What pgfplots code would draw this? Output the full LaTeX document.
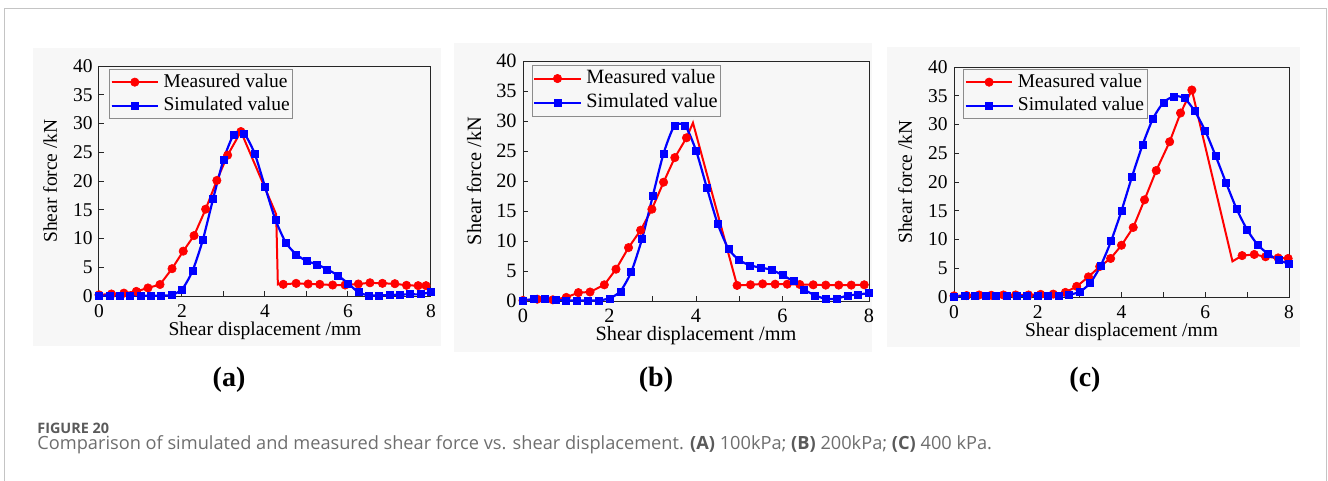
\documentclass[border=0pt]{standalone}
\usepackage{fontspec}
\setmainfont{Liberation Serif}
\newfontfamily\capfont{Open Sans}
\usepackage{pgfplots}
\pgfplotsset{compat=1.18}

\definecolor{panelbg}{HTML}{F7F7F7}
\definecolor{framegray}{HTML}{C4C4C4}
\definecolor{capgray}{HTML}{6E6E6E}
\definecolor{figgray}{HTML}{5A5A5A}
\definecolor{measred}{HTML}{FF0000}
\definecolor{simblue}{HTML}{0000FF}

% shared look of the three shear panels; #1 = font size in pt
\pgfplotsset{
  shearaxis/.style={
    scale only axis,
    xmin=0, xmax=8, ymin=0, ymax=40,
    xtick={0,2,4,6,8}, ytick={0,5,...,40},
    minor xtick={1,3,5,7},
    tick pos=left, tick align=inside,
    major tick length=2.7pt, minor tick length=2.7pt,
    axis line style={draw=black!85, line width=0.5pt},
    every tick/.style={draw=black!85, line width=0.5pt},
    /pgf/number format/assume math mode=true,
    tick label style={font=\fontsize{#1}{#1}\selectfont},
    xticklabel style={anchor=base, yshift=-10.5pt},
    yticklabel style={anchor=east, inner sep=0pt, xshift=-3pt},
    xlabel={Shear displacement /mm},
    ylabel={Shear force /kN},
    label style={font=\fontsize{#1}{#1}\selectfont},
    xlabel style={at={(axis description cs:0.5,0)}, anchor=base, yshift=-19.5pt},
    ylabel style={at={(axis description cs:0,0.5)}, anchor=center, yshift=24.5pt},
    legend cell align=left,
    legend style={
      font=\fontsize{#1}{#1}\selectfont,
      draw=black!45, line width=0.4pt, fill=none,
      inner sep=0.5pt, row sep=0pt,
      nodes={inner sep=1pt, text height=0.75*#1pt, text depth=0.25*#1pt},
      /tikz/every odd column/.append style={column sep=1.2pt},
      at={(axis description cs:0,1)}, anchor=north west,
    },
    legend image code/.code={%
      \draw[mark=none] (0pt,0pt) -- (23.3pt,0pt);
      \draw[mark indices={2}]
        plot coordinates {(0pt,0pt) (11.65pt,0pt) (23.3pt,0pt)};},
  },
  measured/.style={color=measred, line width=1pt, mark=*,
    mark size=2.1pt, mark options={solid, fill=measred, draw=measred, line width=0.3pt}},
  simulated/.style={color=simblue, line width=1.1pt, mark=square*,
    mark size=1.75pt, mark options={solid, fill=simblue, draw=simblue, line width=0.3pt}},
}

\begin{document}
\begin{tikzpicture}
\useasboundingbox (0pt,0pt) rectangle (664pt,-240.5pt);

% outer figure frame
\draw[framegray, line width=0.5pt] (2pt,-240.5pt) -- (2pt,-4.5pt) -- (663.3pt,-4.5pt) -- (663.3pt,-240.5pt);

% panel backgrounds
\fill[panelbg] (16.5pt,-24pt) rectangle (220.5pt,-173pt);
\fill[panelbg] (227pt,-21.5pt) rectangle (436pt,-176pt);
\fill[panelbg] (443.5pt,-23.5pt) rectangle (650pt,-173.5pt);

% (a) 100 kPa
\begin{axis}[shearaxis=9.75, width=166pt, height=115pt,
  at={(49.5pt,-148pt)}, anchor=south west,
  legend style={xshift=5pt, yshift=-1.5pt}]
\addplot+[measured, mark indices={1,2,3,4,5,6,7,8,9,10,11,12,13,16,17,18,19,20,21,22,23,24,25,26,27,28}] table {
x y
0 0.2
0.3 0.35
0.6 0.5
0.9 0.8
1.18 1.4
1.47 2.0
1.76 4.75
2.03 7.8
2.29 10.5
2.57 15.1
2.84 20.1
3.10 24.5
3.42 28.6
4.27 14.2
4.31 2.0
4.44 2.03
4.75 2.2
5.04 2.09
5.32 2.03
5.63 1.91
5.93 1.91
6.25 2.09
6.53 2.3
6.83 2.2
7.13 2.14
7.41 1.86
7.69 1.8
7.88 1.8
};
\addlegendentry{Measured value}
\addplot+[simulated, smooth, tension=0.4] table {
x y
0 0.1
0.25 0.1
0.5 0.1
0.75 0.1
1.0 0.05
1.25 0.05
1.5 0.05
1.75 0.2
2.0 1.15
2.25 4.3
2.5 9.7
2.75 16.9
3.0 23.7
3.25 28.1
3.5 28.2
3.75 24.8
4.0 19.0
4.25 13.3
4.5 9.3
4.75 7.25
5.0 6.1
5.25 5.5
5.5 4.64
5.75 3.6
6.0 2.2
6.25 0.65
6.5 0.1
6.75 0.1
7.0 0.15
7.25 0.25
7.5 0.3
7.75 0.3
8.0 0.7
};
\addlegendentry{Simulated value}
\end{axis}

% (b) 200 kPa
\begin{axis}[shearaxis=10.15, width=173pt, height=120pt,
  at={(261.5pt,-150.5pt)}, anchor=south west,
  legend style={xshift=4.35pt, yshift=-2pt}]
\addplot+[measured, mark indices={1,2,3,4,5,6,7,8,9,10,11,12,13,14,16,17,18,19,20,21,22,23,24,25,26}] table {
x y
0 0.1
0.33 0.3
0.69 0.2
1.0 0.6
1.28 1.4
1.55 1.5
1.88 2.7
2.15 5.3
2.44 8.9
2.72 11.8
2.98 15.3
3.25 19.8
3.51 23.9
3.78 27.2
3.93 29.7
4.95 2.6
5.26 2.7
5.54 2.85
5.83 2.8
6.11 2.8
6.40 2.75
6.71 2.7
7.0 2.65
7.30 2.65
7.59 2.65
7.89 2.7
};
\addlegendentry{Measured value}
\addplot+[simulated, smooth, tension=0.4] table {
x y
0 0.1
0.25 0.3
0.5 0.3
0.75 0.2
1.0 0.1
1.25 0.1
1.5 0.1
1.75 0.1
2.0 0.45
2.25 1.6
2.5 4.8
2.75 10.3
3.0 17.5
3.25 24.6
3.5 29.2
3.75 29.2
4.0 25.1
4.25 18.9
4.5 12.9
4.75 8.7
5.0 6.8
5.25 5.95
5.5 5.55
5.75 5.2
6.0 4.3
6.25 3.3
6.5 1.9
6.75 0.95
7.0 0.35
7.25 0.4
7.5 0.9
7.75 1.1
8.0 1.3
};
\addlegendentry{Simulated value}
\end{axis}

% (c) 400 kPa
\begin{axis}[shearaxis=9.75, width=167.5pt, height=115pt,
  at={(477pt,-148.5pt)}, anchor=south west,
  legend style={xshift=4.65pt, yshift=-1pt}]
\addplot+[measured, mark indices={1,2,3,4,5,6,7,8,9,10,11,12,13,14,15,16,17,18,19,20,21,23,24,25,26,27}] table {
x y
0 0.2
0.3 0.25
0.6 0.35
0.89 0.3
1.18 0.35
1.47 0.35
1.78 0.35
2.07 0.46
2.37 0.5
2.66 0.8
2.93 1.85
3.21 3.5
3.48 5.3
3.74 6.7
4.0 9.0
4.28 12.1
4.55 16.9
4.83 22.0
5.15 27.0
5.41 32.0
5.68 36.0
6.65 6.2
6.88 7.2
7.17 7.4
7.44 7.0
7.74 6.8
7.98 6.7
};
\addlegendentry{Measured value}
\addplot+[simulated, smooth, tension=0.4] table {
x y
0 0.1
0.25 0.2
0.5 0.2
0.75 0.2
1.0 0.2
1.25 0.2
1.5 0.2
1.75 0.2
2.0 0.2
2.25 0.2
2.5 0.25
2.75 0.4
3.0 0.9
3.25 2.4
3.5 5.4
3.75 9.7
4.0 15.0
4.25 20.9
4.5 26.4
4.75 31.0
5.0 33.8
5.25 34.9
5.5 34.6
5.75 32.3
6.0 28.9
6.25 24.5
6.5 19.8
6.75 15.3
7.0 11.7
7.25 9.1
7.5 7.5
7.75 6.4
8.0 5.8
};
\addlegendentry{Simulated value}
\end{axis}

% panel letters
\node[anchor=base, font=\fontsize{14}{14}\selectfont\bfseries] at (114.5pt,-193pt) {(a)};
\node[anchor=base, font=\fontsize{14}{14}\selectfont\bfseries] at (328pt,-193pt) {(b)};
\node[anchor=base, font=\fontsize{14}{14}\selectfont\bfseries] at (542.5pt,-193pt) {(c)};

% figure caption
\node[anchor=base west, inner sep=0pt, text=figgray, font=\capfont\bfseries\fontsize{7.2}{7.2}\selectfont] at (18.5pt,-216.5pt) {FIGURE 20};
\node[anchor=base west, inner sep=0pt, text=capgray, font=\capfont\fontsize{9.1}{9.1}\selectfont] at (18.5pt,-224.5pt)
  {Comparison of simulated and measured shear force vs. shear displacement. {\bfseries\color{figgray}(A)} 100kPa; {\bfseries\color{figgray}(B)} 200kPa; {\bfseries\color{figgray}(C)} 400 kPa.};
\end{tikzpicture}
\end{document}
